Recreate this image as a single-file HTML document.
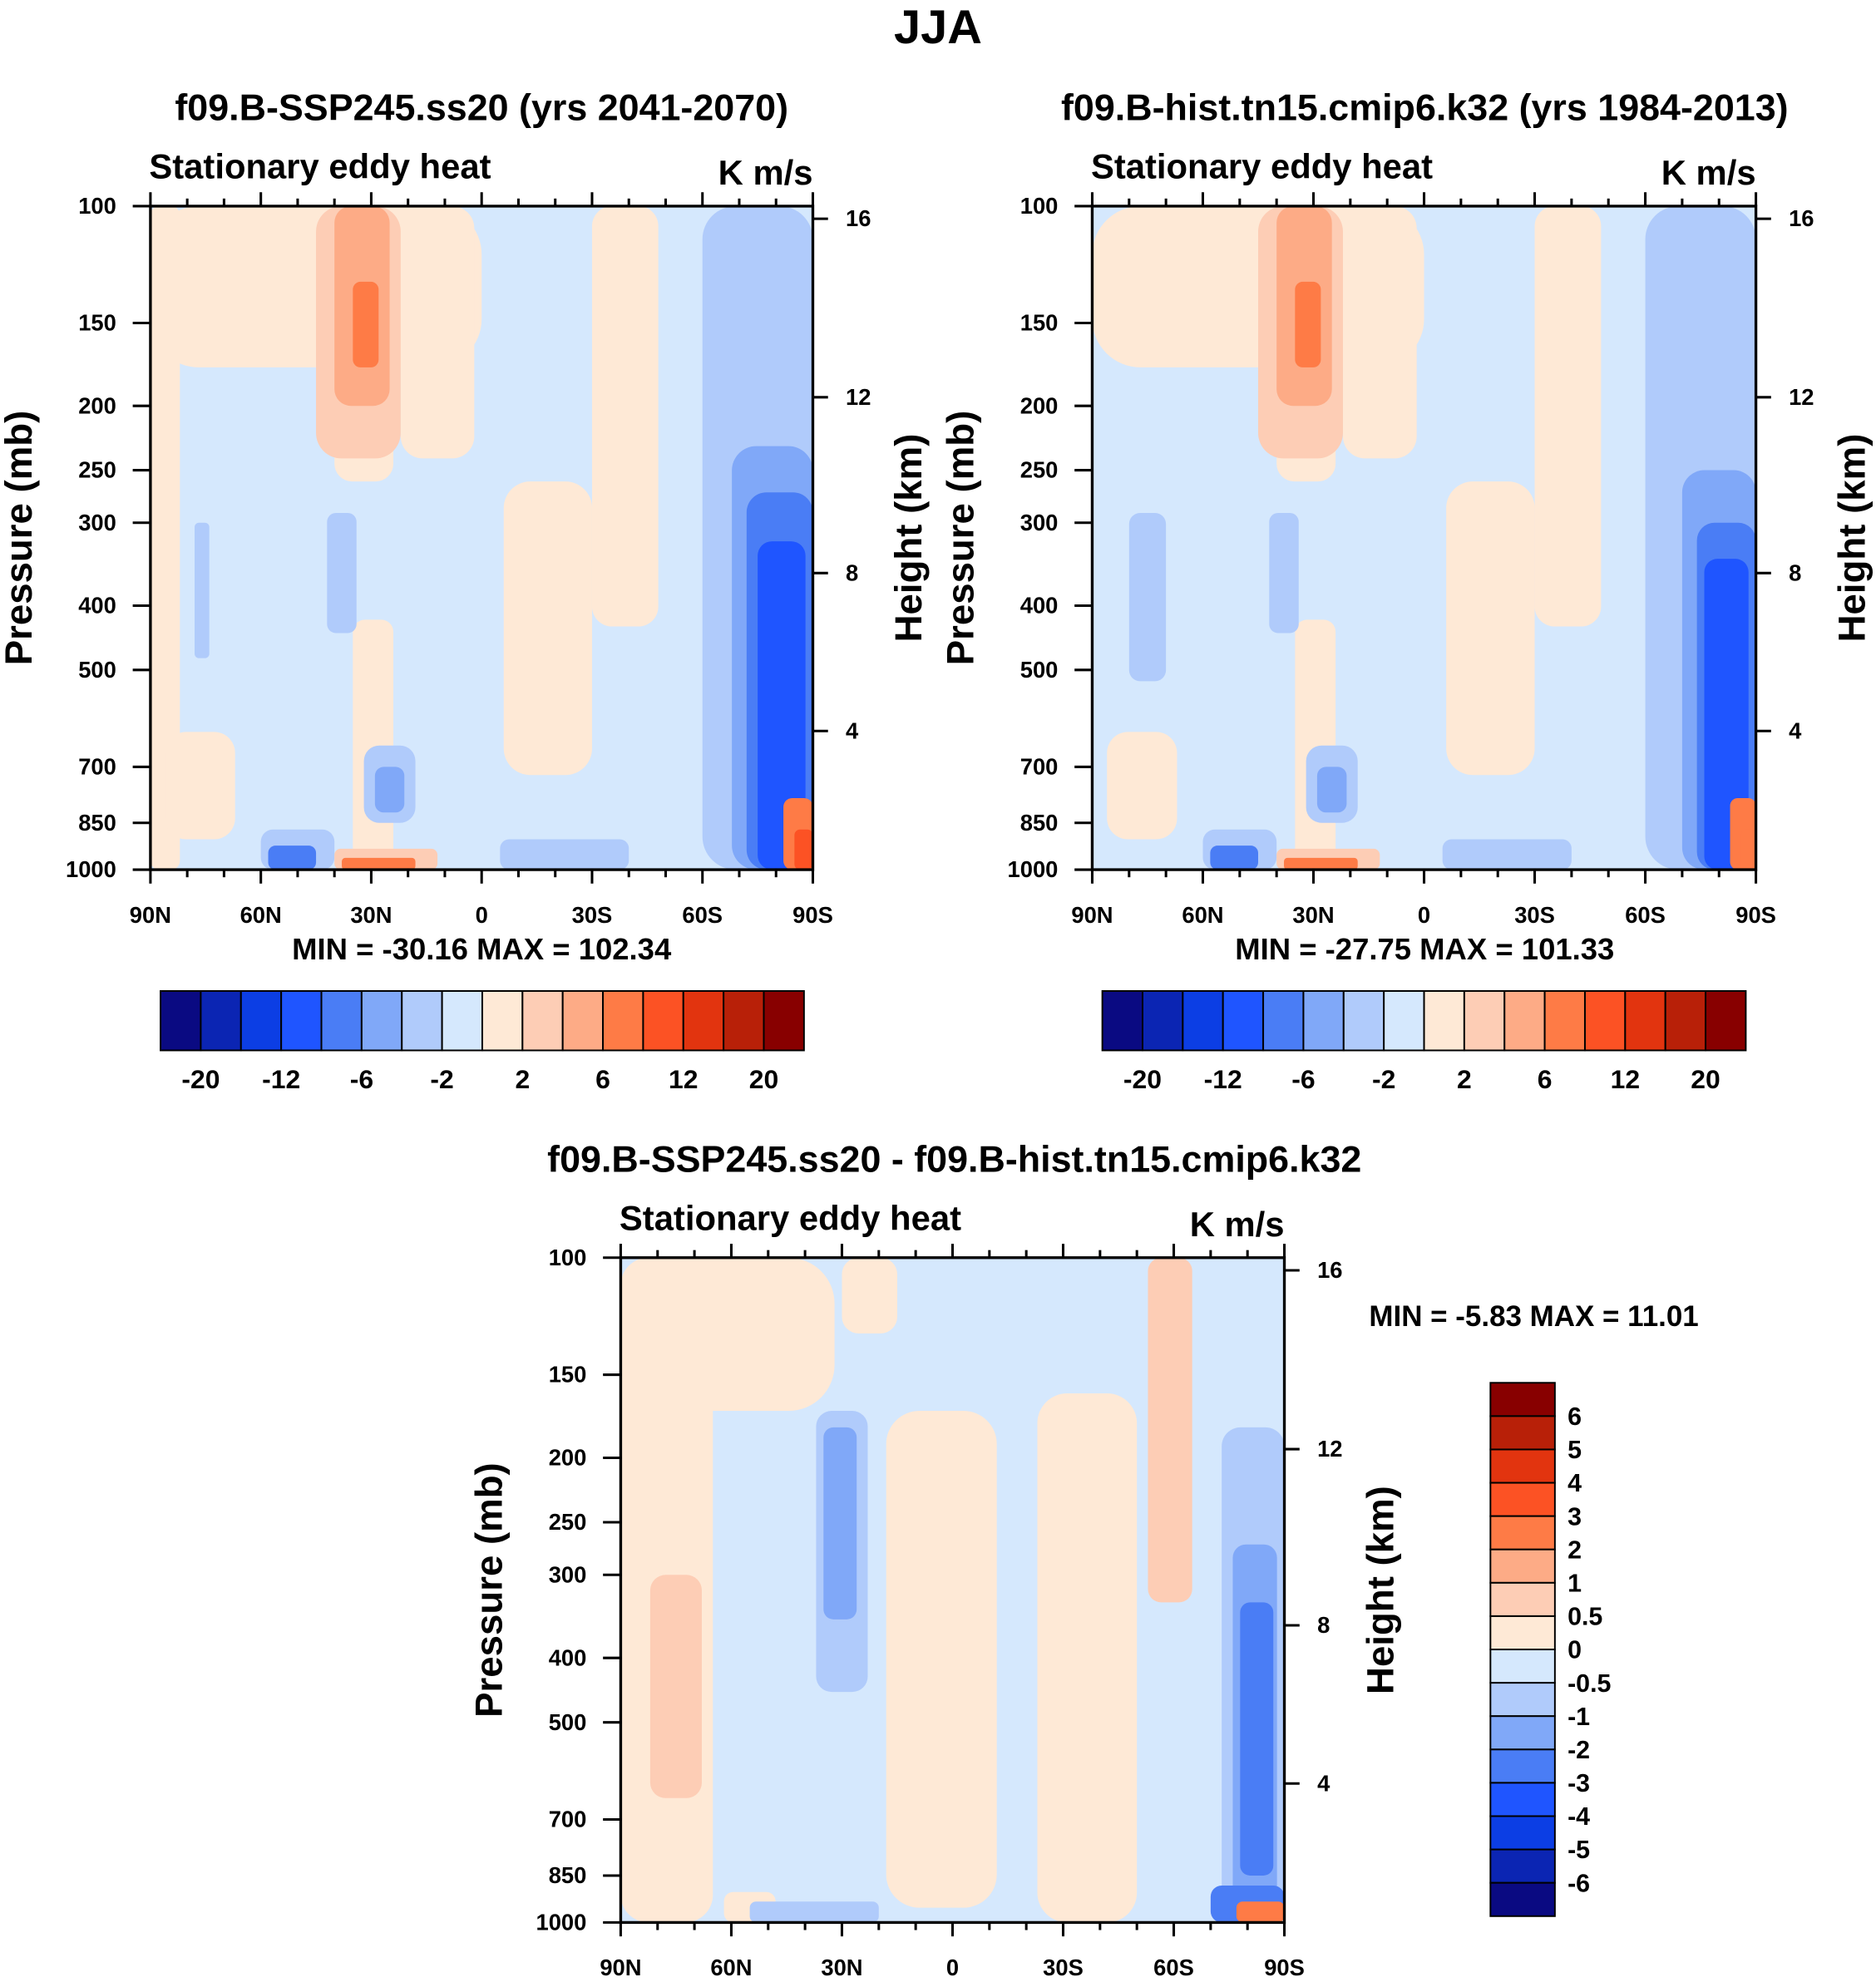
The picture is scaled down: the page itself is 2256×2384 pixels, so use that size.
<!DOCTYPE html>
<html><head><meta charset="utf-8"><style>
html,body{margin:0;padding:0;background:#fff}
svg{display:block}
text{font-family:"Liberation Sans",Arial,sans-serif;font-weight:bold;fill:#000}
</style></head><body>
<svg id="fig" xmlns="http://www.w3.org/2000/svg" width="2256" height="2384" viewBox="0 0 1484 1568">
<text x="742" y="34" font-size="38" text-anchor="middle">JJA</text>
<g id="p1"></g>
<g id="p2"></g>
<g id="p3"></g>
</svg>
<script>
const NS="http://www.w3.org/2000/svg";
const colors16=["#0a0a82","#0b25b3","#0c3ee4","#1f55ff","#4a7df5","#80a8f8","#b0cbfb","#d5e8fd","#fee9d6","#fdcdb5","#fdab86","#fe7b46","#fc5224","#e2340f","#b82008","#880000"];
const pLevels=[100,150,200,250,300,400,500,700,850,1000];
const hLabels=[16,12,8,4];
const hPixFrac=[0.019,0.288,0.553,0.791];
const latLabels=["90N","60N","30N","0","30S","60S","90S"];
const cbLabels12=["-20","-12","-6","-2","2","6","12","20"];
const cbLabels3=["6","5","4","3","2","1","0.5","0","-0.5","-1","-2","-3","-4","-5","-6"];
// features: [lat0 (deg from 90N), lat1, pTop, pBottom, colorIndex], drawn in order
const feat1Lat0=[0,0,50,55,68,96,120,4,12,48,45,50,55,150,158,162,165,30,32,58,61,95,50,52,172,175];
const feat1Lat1=[90,8,66,66,88,120,138,23,16,56,68,65,62,180,180,180,178,50,45,72,69,130,78,72,180,180];
const feat1P0=[100,100,175,420,100,260,100,620,300,290,100,100,130,100,230,270,320,870,920,650,700,900,930,960,780,870];
const feat1P1=[175,1000,260,1000,240,720,430,900,480,440,240,200,175,1000,1000,1000,1000,1000,1000,850,820,1000,1000,1000,1000,1000];
const feat1C=[8,8,8,8,8,8,8,8,6,6,9,10,11,6,5,4,3,6,4,6,5,6,9,11,11,12];
const feat2Lat0=[0,50,55,68,96,120,4,10,48,45,50,55,150,160,164,166,30,32,58,61,95,50,52,173,176];
const feat2Lat1=[90,66,66,88,120,138,23,20,56,68,65,62,180,180,180,178,50,45,72,69,130,78,72,180,180];
const feat2P0=[100,175,420,100,260,100,620,290,290,100,100,130,100,250,300,340,870,920,650,700,900,930,960,780,870];
const feat2P1=[175,260,1000,240,720,430,900,520,440,240,200,175,1000,1000,1000,1000,1000,1000,850,820,1000,1000,1000,1000,1000];
const feat2C=[8,8,8,8,8,8,8,6,6,9,10,11,6,5,4,3,6,4,6,5,6,9,11,11,11];
const feat3Lat0=[0,0,60,8,72,113,143,53,55,160,163,166,168,28,35,160,167];
const feat3Lat1=[25,58,75,22,102,140,155,67,64,180,180,178,177,42,70,180,180];
const feat3P0=[100,100,100,300,170,160,100,170,180,100,180,270,330,900,930,880,930];
const feat3P1=[1000,170,130,650,950,1000,330,450,350,1000,1000,950,850,1000,1000,1000,1000];
const feat3C=[8,8,8,9,8,8,9,6,5,7,6,5,4,8,6,4,11];

function el(tag,attrs,parent,txt){const e=document.createElementNS(NS,tag);for(const k in attrs)e.setAttribute(k,attrs[k]);if(txt!==undefined)e.textContent=txt;parent.appendChild(e);return e;}

function panel(g,L,T,W,H,fl0,fl1,fp0,fp1,fc,id){
  const xS=d=>L+d/180*W;
  const yS=p=>T+H-Math.log10(1000/p)*H;
  const defs=el("defs",{},g);
  const cp=el("clipPath",{id:"clip"+id},defs);
  el("rect",{x:L,y:T,width:W,height:H},cp);
  const bg=el("rect",{x:L,y:T,width:W,height:H,fill:colors16[7]},g);
  
  
  const fg=el("g",{"clip-path":"url(#clip"+id+")"},g);
  for(let i=0;i<fc.length;i++){
    const x0=xS(fl0[i]),x1=xS(fl1[i]),y0=yS(fp0[i]),y1=yS(fp1[i]);
    const r=Math.min(x1-x0,y1-y0)*0.3;
    const c=el("rect",{x:x0,y:y0,width:x1-x0,height:y1-y0,rx:r,ry:r,fill:colors16[fc[i]]},fg);
    
    
  }
  const fr=el("rect",{x:L,y:T,width:W,height:H,fill:"none",stroke:"#000","stroke-width":2.2},g);
  
  
  for(let d=0;d<=180;d+=10){
    const len=d%30===0?11:6;
    el("line",{x1:xS(d),x2:xS(d),y1:T,y2:T-len,stroke:"#000","stroke-width":2},g);
    el("line",{x1:xS(d),x2:xS(d),y1:T+H,y2:T+H+len,stroke:"#000","stroke-width":2},g);
  }
  latLabels.forEach((s,i)=>{const t=el("text",{x:xS(i*30),y:T+H+42,"font-size":18,"text-anchor":"middle"},g,s);
    });
  pLevels.forEach(p=>{el("line",{x1:L-14,x2:L,y1:yS(p),y2:yS(p),stroke:"#000","stroke-width":2},g);
    const t=el("text",{x:L-27,y:yS(p)+6,"font-size":18,"text-anchor":"end"},g,p);
    });
  hLabels.forEach((h,i)=>{const y=T+hPixFrac[i]*H;el("line",{x1:L+W,x2:L+W+12,y1:y,y2:y,stroke:"#000","stroke-width":2},g);
    const t=el("text",{x:L+W+26,y:y+6,"font-size":18},g,h);
    });
  let t=el("text",{x:L-1,y:T-22,"font-size":27.5},g,"Stationary eddy heat");
  
  t=el("text",{x:L+W,y:T-17,"font-size":27.5,"text-anchor":"end"},g,"K m/s");
  
  t=el("text",{transform:`translate(${L-94},${T+H/2}) rotate(-90)`,"font-size":30,"text-anchor":"middle"},g,"Pressure (mb)");
  
  t=el("text",{transform:`translate(${L+W+86},${T+H/2}) rotate(-90)`,"font-size":30,"text-anchor":"middle"},g,"Height (km)");
  
}
function hbar(g,L,T,W,H){
  const bw=W/16;
  colors16.forEach((c,i)=>{const r=el("rect",{x:L+i*bw,y:T,width:bw,height:H,fill:c,stroke:"#000","stroke-width":1.3},g);
    });
  cbLabels12.forEach((s,i)=>{const t=el("text",{x:L+(2*i+1)*bw,y:T+H+30,"font-size":21,"text-anchor":"middle"},g,s);
    });
}
function vbar(g,L,T,W,H){
  const bh=H/16;
  colors16.slice().reverse().forEach((c,i)=>{const r=el("rect",{x:L,y:T+i*bh,width:W,height:bh,fill:c,stroke:"#000","stroke-width":1.3},g);
    });
  cbLabels3.forEach((s,i)=>{const t=el("text",{x:L+W+10,y:T+(i+1)*bh+7,"font-size":20},g,s);
    });
}
function txt(g,x,y,s,fs,anchor,name){const t=el("text",{x:x,y:y,"font-size":fs,"text-anchor":anchor},g,s);
  }

const g1=document.getElementById("p1"),g2=document.getElementById("p2"),g3=document.getElementById("p3");
txt(g1,381,95,"f09.B-SSP245.ss20 (yrs 2041-2070)",29.5,"middle","panel-title");
panel(g1,119,163,524,525,feat1Lat0,feat1Lat1,feat1P0,feat1P1,feat1C,1);
txt(g1,381,759,"MIN = -30.16  MAX = 102.34",24,"middle","min-max-label");
hbar(g1,127,784,509,47);
txt(g2,1127,95,"f09.B-hist.tn15.cmip6.k32 (yrs 1984-2013)",29.5,"middle","panel-title");
panel(g2,864,163,525,525,feat2Lat0,feat2Lat1,feat2P0,feat2P1,feat2C,2);
txt(g2,1127,759,"MIN = -27.75  MAX = 101.33",24,"middle","min-max-label");
hbar(g2,872,784,509,47);
txt(g3,755,927,"f09.B-SSP245.ss20 - f09.B-hist.tn15.cmip6.k32",29.5,"middle","panel-title");
panel(g3,491,995,525,526,feat3Lat0,feat3Lat1,feat3P0,feat3P1,feat3C,3);
txt(g3,1083,1049,"MIN =  -5.83  MAX =  11.01",23,"start","min-max-label");
vbar(g3,1179,1094,51,422);
</script>
</body></html>
